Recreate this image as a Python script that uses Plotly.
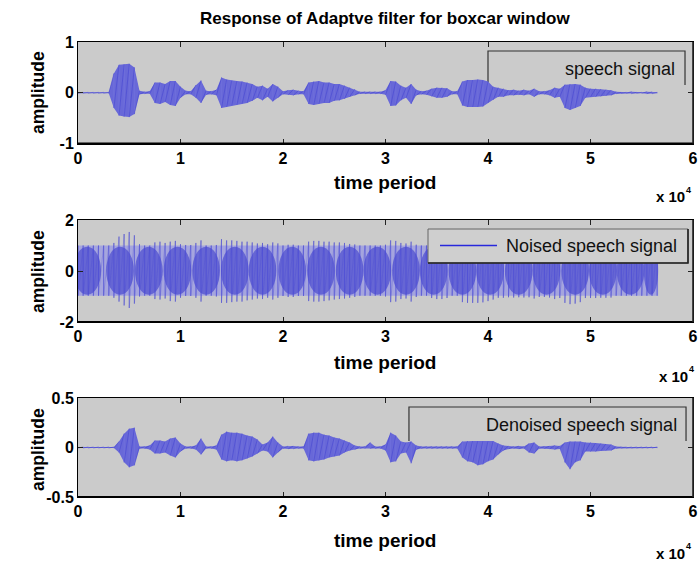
import numpy as np
import plotly.graph_objects as go

# ---------------- data ----------------
# sample index grid (every 500 samples, signal ends near 5.65e4)
samples = list(range(0, 56501, 500))

speech_upper = [0.01]*7 + [0.38, 0.55, 0.56, 0.57, 0.5, 0.04, 0.02, 0.03, 0.2, 0.2, 0.17, 0.23, 0.23, 0.12,
    0.04, 0.03, 0.15, 0.24, 0.04, 0.03, 0.06, 0.3, 0.26, 0.24, 0.23, 0.22, 0.2, 0.17, 0.12, 0.14,
    0.08, 0.17, 0.12, 0.03, 0.05, 0.06, 0.04, 0.03, 0.2, 0.22, 0.23, 0.2, 0.2, 0.17, 0.17, 0.14,
    0.1, 0.07, 0.02, 0.02, 0.02, 0.02, 0.02, 0.05, 0.23, 0.22, 0.14, 0.1, 0.17, 0.06, 0.03, 0.04,
    0.08, 0.1, 0.1, 0.09, 0.03, 0.03, 0.22, 0.25, 0.25, 0.26, 0.25, 0.22, 0.12, 0.1, 0.08, 0.05,
    0.06, 0.04, 0.06, 0.04, 0.08, 0.03, 0.03, 0.05, 0.1, 0.08, 0.16, 0.17, 0.17, 0.16, 0.1, 0.08,
    0.08, 0.07, 0.06, 0.05, 0.02, 0.01, 0.01, 0.02, 0.01, 0.01, 0.02, 0.02, 0.01]
speech_lower = [-0.01]*7 + [-0.30, -0.45, -0.47, -0.48, -0.42, -0.03, -0.02, -0.02, -0.2, -0.22, -0.18, -0.24,
    -0.26, -0.1, -0.03, -0.03, -0.1, -0.2, -0.04, -0.03, -0.05, -0.3, -0.28, -0.25, -0.24, -0.22,
    -0.2, -0.16, -0.1, -0.15, -0.08, -0.17, -0.1, -0.03, -0.04, -0.05, -0.03, -0.03, -0.22, -0.24,
    -0.22, -0.2, -0.2, -0.16, -0.15, -0.12, -0.08, -0.05, -0.02, -0.02, -0.02, -0.02, -0.02, -0.04,
    -0.26, -0.25, -0.15, -0.1, -0.22, -0.05, -0.03, -0.04, -0.07, -0.1, -0.1, -0.08, -0.03, -0.03,
    -0.25, -0.28, -0.28, -0.28, -0.27, -0.2, -0.14, -0.08, -0.08, -0.05, -0.05, -0.04, -0.05, -0.03,
    -0.08, -0.03, -0.03, -0.05, -0.1, -0.08, -0.3, -0.34, -0.3, -0.26, -0.1, -0.08, -0.08, -0.07,
    -0.06, -0.05, -0.02, -0.01, -0.01, -0.02, -0.01, -0.01, -0.02, -0.02, -0.01]

noised_upper = [1.0]*7 + [1.1, 1.35, 1.45, 1.53, 1.4, 1.05, 1.0, 1.0, 1.12, 1.15, 1.1, 1.15, 1.18, 1.05, 1.02,
    1.02, 1.1, 1.2, 1.0, 1.0, 1.02, 1.25, 1.2, 1.2, 1.18, 1.15, 1.15, 1.12, 1.08, 1.1, 1.05, 1.12,
    1.08, 1.0, 1.03, 1.03, 1.0, 1.0, 1.15, 1.18, 1.18, 1.15, 1.15, 1.12, 1.12, 1.1, 1.06, 1.04] + [1.0]*5 + [
    1.03, 1.2, 1.18, 1.1, 1.08, 1.15, 1.03, 1.0, 1.0, 1.06, 1.08, 1.08, 1.06, 1.0, 1.0, 1.2, 1.22,
    1.22, 1.22, 1.2, 1.15, 1.1, 1.05, 1.05, 1.03, 1.04, 1.03, 1.04, 1.03, 1.08, 1.02, 1.02, 1.04,
    1.08, 1.06, 1.12, 1.15, 1.15, 1.12, 1.06, 1.06, 1.06, 1.05, 1.05, 1.04] + [1.0]*9
noised_lower = [-0.97]*7 + [-1.05, -1.2, -1.35, -1.45, -1.28, -1.0, -0.97, -0.97, -1.1, -1.12, -1.08, -1.18,
    -1.2, -1.05, -0.98, -0.98, -1.05, -1.2, -0.97, -0.97, -1.0, -1.25, -1.25, -1.22, -1.2, -1.2,
    -1.15, -1.12, -1.08, -1.1, -1.05, -1.12, -1.05, -0.98, -1.02, -1.02, -0.98, -0.98, -1.18, -1.2,
    -1.2, -1.18, -1.15, -1.12, -1.1, -1.08, -1.05, -1.02] + [-0.97]*5 + [-1.0, -1.22, -1.2, -1.1, -1.08,
    -1.2, -1.02, -0.97, -0.97, -1.06, -1.1, -1.1, -1.06, -0.97, -0.97, -1.22, -1.25, -1.25, -1.25,
    -1.23, -1.18, -1.12, -1.05, -1.05, -1.03, -1.04, -1.03, -1.04, -1.03, -1.08, -1.02, -1.02, -1.04,
    -1.1, -1.06, -1.25, -1.3, -1.28, -1.22, -1.06, -1.06, -1.06, -1.05, -1.05, -1.04] + [-0.97]*9
# dense "beat" lobes of the noise
lobe_centers = [900, 4100, 6900, 9700, 12500, 15300, 18000, 20900, 23700, 26500, 29200,
                32000, 34700, 37500, 40200, 43000, 45700, 48500, 51200, 53900, 55900]
lobe_halfwidth = [1350]*20 + [700]
lobe_top, lobe_bottom = 0.95, -0.93
band_top, band_bottom, band_end = 1.0, -0.97, 56600

denoised_upper = [0.006]*8 + [0.06, 0.14, 0.19, 0.2, 0.01, 0.01, 0.02, 0.07, 0.07, 0.06, 0.09, 0.1, 0.04, 0.01,
    0.01, 0.02, 0.09, 0.01, 0.01, 0.02, 0.13, 0.16, 0.15, 0.15, 0.14, 0.12, 0.11, 0.08, 0.03, 0.05,
    0.11, 0.05, 0.01, 0.015, 0.015, 0.01, 0.01, 0.14, 0.15, 0.15, 0.13, 0.12, 0.1, 0.09, 0.07, 0.05,
    0.02, 0.01, 0.01, 0.05, 0.01, 0.01, 0.03, 0.15, 0.12, 0.06, 0.05, 0.06, 0.02] + [0.01]*8 + [
    0.06, 0.065, 0.065, 0.065, 0.065, 0.065, 0.065, 0.04, 0.02, 0.015, 0.01, 0.015, 0.01, 0.04,
    0.05, 0.01, 0.01, 0.015, 0.02, 0.015, 0.05, 0.06, 0.06, 0.06, 0.05, 0.05, 0.045, 0.04, 0.035,
    0.03, 0.01] + [0.006]*8
denoised_lower = [-0.006]*8 + [-0.05, -0.15, -0.2, -0.18, -0.01, -0.01, -0.02, -0.06, -0.06, -0.05, -0.08,
    -0.1, -0.04, -0.01, -0.01, -0.02, -0.07, -0.01, -0.01, -0.02, -0.12, -0.14, -0.13, -0.14, -0.13,
    -0.11, -0.09, -0.06, -0.03, -0.04, -0.1, -0.05, -0.01, -0.015, -0.015, -0.01, -0.01, -0.13,
    -0.14, -0.13, -0.12, -0.1, -0.09, -0.08, -0.05, -0.03, -0.02, -0.01, -0.01, -0.01, -0.01, -0.01,
    -0.03, -0.15, -0.14, -0.06, -0.05, -0.16, -0.02] + [-0.01]*8 + [-0.1, -0.14, -0.15, -0.18, -0.17,
    -0.14, -0.12, -0.07, -0.03, -0.015, -0.01, -0.015, -0.01, -0.05, -0.06, -0.01, -0.01, -0.015,
    -0.02, -0.015, -0.15, -0.22, -0.15, -0.13, -0.04, -0.04, -0.04, -0.035, -0.03, -0.03, -0.01] + [-0.006]*8

x_ticks = [0, 10000, 20000, 30000, 40000, 50000, 60000]
x_ticktext = ['0', '1', '2', '3', '4', '5', '6']
y_ticks = [[-1, 0, 1], [-2, 0, 2], [-0.5, 0, 0.5]]
y_ticktext = [['-1', '0', '1'], ['-2', '0', '2'], ['-0.5', '0', '0.5']]
y_ranges = [[-1, 1], [-2, 2], [-0.5, 0.5]]

# ---------------- figure ----------------
W, H = 700, 561
FONT = "Liberation Sans, Arial, sans-serif"
BG = "#cbcbcb"
FILL = "rgb(104,104,216)"

def strokes(xs, up, lo):
    zx, zy = [], []
    for x, u, l in zip(xs, up, lo):
        zx += [x, x, None]
        zy += [u, l, None]
    return zx, zy

def zig(xs, up, lo):
    zx, zy = [], []
    for x, u, l in zip(xs, up, lo):
        zx += [x, x]
        zy += [u, l]
    return zx, zy

fig = go.Figure()
xd = [78 / W, 693 / W]
ydoms = [[1 - 143.5 / H, 1 - 42 / H], [1 - 322 / H, 1 - 220 / H], [1 - 497 / H, 1 - 398 / H]]

for k, up, lo in [('', speech_upper, speech_lower), ('3', denoised_upper, denoised_lower)]:
    fig.add_trace(go.Scatter(x=samples + samples[::-1], y=up + lo[::-1], fill='toself', fillcolor=FILL,
                             line=dict(width=0), mode='lines', xaxis=f'x{k}', yaxis=f'y{k}',
                             hoverinfo='skip', showlegend=False))
    zx, zy = strokes(samples, up, lo)
    fig.add_trace(go.Scatter(x=zx, y=zy, mode='lines', line=dict(color="rgba(170,170,235,0.55)", width=1),
                             xaxis=f'x{k}', yaxis=f'y{k}', showlegend=False))
    zx, zy = zig(samples, up, lo)
    fig.add_trace(go.Scatter(x=zx, y=zy, mode='lines', line=dict(color="rgba(40,40,205,0.45)", width=0.7),
                             xaxis=f'x{k}', yaxis=f'y{k}', showlegend=False))

# noised signal strokes
zx, zy = strokes(samples, noised_upper, noised_lower)
fig.add_trace(go.Scatter(x=zx, y=zy, mode='lines', line=dict(color="rgba(80,80,215,0.6)", width=1),
                         xaxis='x2', yaxis='y2', showlegend=False))
zx, zy = zig(samples, noised_upper, noised_lower)
fig.add_trace(go.Scatter(x=zx, y=zy, mode='lines', line=dict(color="rgba(70,70,210,0.35)", width=0.8),
                         xaxis='x2', yaxis='y2', showlegend=False))

shapes = []
shapes.append(dict(type='rect', xref='x2', yref='y2', x0=0, x1=band_end, y0=band_bottom, y1=band_top,
                   fillcolor="rgb(165,165,222)", line=dict(width=0), layer='below'))
for c, hw in zip(lobe_centers, lobe_halfwidth):
    shapes.append(dict(type='circle', xref='x2', yref='y2', x0=c - hw, x1=c + hw, y0=lobe_bottom, y1=lobe_top,
                       fillcolor="rgb(102,102,212)", line=dict(width=0), layer='below'))
shapes.append(dict(type='path', xref='x', yref='y', path="M 40000 0.153 L 40000 0.823 L 59220 0.823 L 59220 0.153",
                   line=dict(color="#333333", width=1.2), layer='below'))
shapes.append(dict(type='path', xref='x3', yref='y3', path="M 32290 0.066 L 32290 0.409 L 59320 0.409 L 59320 0.066",
                   line=dict(color="#333333", width=1.2), layer='below'))
shapes.append(dict(type='rect', xref='paper', yref='paper', x0=428 / W, x1=688 / W, y0=1 - 263 / H, y1=1 - 229 / H,
                   fillcolor="#cfcfcf", line=dict(color="#666666", width=1), layer='above'))
shapes.append(dict(type='path', xref='paper', yref='paper',
                   path=f"M {428/W} {1-263/H} L {688/W} {1-263/H} L {688/W} {1-229/H}",
                   line=dict(color="#222222", width=1.6), layer='above'))
shapes.append(dict(type='line', xref='paper', yref='paper', x0=440 / W, x1=497 / W, y0=1 - 245.5 / H, y1=1 - 245.5 / H,
                   line=dict(color="rgb(40,40,220)", width=1.3), layer='above'))
for k in ['', '2', '3']:
    shapes.append(dict(type='line', xref=f'x{k} domain', yref=f'y{k} domain', x0=0, x1=1, y0=0, y1=0,
                       line=dict(color='black', width=2.2), layer='above'))
    shapes.append(dict(type='line', xref=f'x{k} domain', yref=f'y{k} domain', x0=1, x1=1, y0=0, y1=1,
                       line=dict(color='#222', width=1.6), layer='above'))

def bfont(size):
    return dict(family=FONT, size=size, color='black', weight='bold')

ann = []
ann.append(dict(text="Response of Adaptve filter for boxcar window", x=385 / W, y=1 - 19 / H, xref='paper', yref='paper',
                showarrow=False, xanchor='center', yanchor='middle', font=bfont(17)))
for yc in [183, 362, 540]:
    ann.append(dict(text="time period", x=385 / W, y=1 - yc / H, xref='paper', yref='paper', showarrow=False,
                    xanchor='center', yanchor='middle', font=bfont(19)))
for yc in [93, 272, 450]:
    ann.append(dict(text="amplitude", x=38 / W, y=1 - yc / H, xref='paper', yref='paper', showarrow=False, textangle=-90,
                    xanchor='center', yanchor='middle', font=bfont(17.5)))
for yc, xr in [(197, 686), (376, 689), (553, 686)]:
    ann.append(dict(text="x 10", x=xr / W, y=1 - yc / H, xref='paper', yref='paper', showarrow=False,
                    xanchor='right', yanchor='middle', font=bfont(15), borderpad=0))
    ann.append(dict(text="4", x=(xr - 1) / W, y=1 - (yc - 7) / H, xref='paper', yref='paper', showarrow=False,
                    xanchor='left', yanchor='middle', font=bfont(9), borderpad=0))
leg_font = dict(family=FONT, size=18, color='#111111')
ann.append(dict(text="speech signal", x=677 / W, y=1 - 69 / H, xref='paper', yref='paper', showarrow=False,
                xanchor='right', yanchor='middle', font=leg_font))
ann.append(dict(text="Noised speech signal", x=679 / W, y=1 - 246 / H, xref='paper', yref='paper', showarrow=False,
                xanchor='right', yanchor='middle', font=leg_font))
ann.append(dict(text="Denoised speech signal", x=679 / W, y=1 - 425 / H, xref='paper', yref='paper', showarrow=False,
                xanchor='right', yanchor='middle', font=leg_font))

tickfont = bfont(16)
layout = dict(width=W, height=H, margin=dict(l=0, r=0, t=0, b=0, autoexpand=False), paper_bgcolor='white',
              plot_bgcolor=BG, showlegend=False, shapes=shapes, annotations=ann)
for i, k in enumerate(['', '2', '3']):
    common = dict(ticks='inside', ticklen=5, tickcolor='#222', showline=True, linecolor='black', linewidth=1,
                  mirror='ticks', showgrid=False, zeroline=False, tickfont=tickfont, automargin=False,
                  ticklabeloverflow='allow', fixedrange=True)
    layout[f'xaxis{k}'] = dict(domain=xd, range=[0, 60000], tickvals=x_ticks, ticktext=x_ticktext,
                               anchor=f'y{k}', **common)
    layout[f'yaxis{k}'] = dict(domain=ydoms[i], range=y_ranges[i], tickvals=y_ticks[i], ticktext=y_ticktext[i],
                               anchor=f'x{k}', **common)
fig.update_layout(**layout)
fig.write_html("out.html", config={'displayModeBar': False},
               post_script="document.body.style.margin='0px';document.body.style.overflow='hidden';")
